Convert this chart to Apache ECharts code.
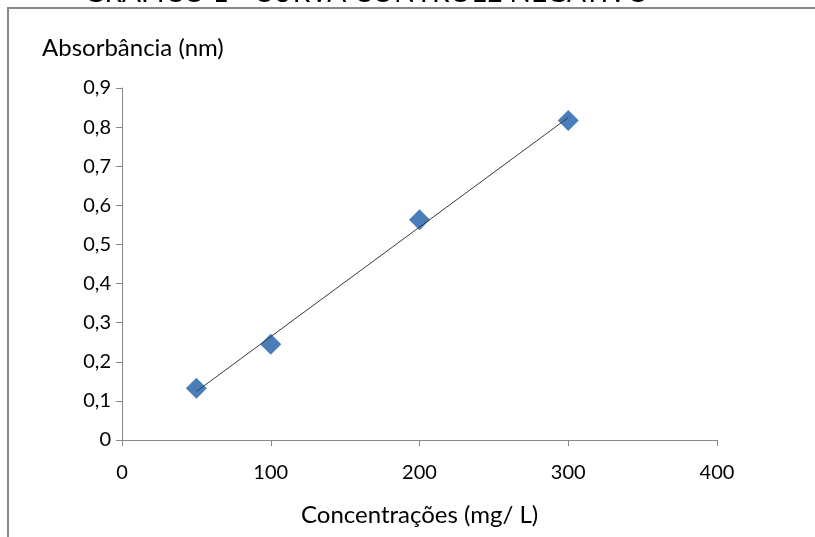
<!DOCTYPE html>
<html>
<head>
<meta charset="utf-8">
<script src="https://cdn.jsdelivr.net/npm/echarts@6/dist/echarts.min.js"></script>
<style>
html,body{margin:0;padding:0;background:#fff;}
#c{width:815px;height:537px;}
</style>
</head>
<body>
<div id="c"></div>
<script>
// Data
const concentrations = [50, 100, 200, 300];
const absorbance = [0.132, 0.245, 0.563, 0.817];
const xTicks = [0, 100, 200, 300, 400];
const yTicks = [0, 0.1, 0.2, 0.3, 0.4, 0.5, 0.6, 0.7, 0.8, 0.9];
const chartTitle = 'GRÁFICO 1 - CURVA CONTROLE NEGATIVO';
const yTitle = 'Absorbância (nm)';
const xTitle = 'Concentrações (mg/ L)';

// Linear trendline (least squares) from the data
const n = concentrations.length;
const mx = concentrations.reduce((a, b) => a + b, 0) / n;
const my = absorbance.reduce((a, b) => a + b, 0) / n;
let sxy = 0, sxx = 0;
for (let i = 0; i < n; i++) {
  sxy += (concentrations[i] - mx) * (absorbance[i] - my);
  sxx += (concentrations[i] - mx) * (concentrations[i] - mx);
}
const slope = sxy / sxx;
const intercept = my - slope * mx;
const xMinData = Math.min(...concentrations);
const xMaxData = Math.max(...concentrations);
const trend = [[xMinData, intercept + slope * xMinData], [xMaxData, intercept + slope * xMaxData]];

const chart = echarts.init(document.getElementById('c'));
const fontFam = 'Lato, "Open Sans", sans-serif';
chart.setOption({
  animation: false,
  backgroundColor: '#fff',
  grid: { left: 122, right: 98, top: 88, bottom: 97 },
  xAxis: {
    type: 'value', min: xTicks[0], max: xTicks[xTicks.length - 1], interval: 100,
    axisLine: { show: true, lineStyle: { color: '#868686', width: 1 } },
    axisTick: { show: true, inside: false, length: 6, lineStyle: { color: '#868686' } },
    axisLabel: { color: '#000', fontSize: 20, fontFamily: fontFam, margin: 23 },
    splitLine: { show: false }
  },
  yAxis: {
    type: 'value', min: yTicks[0], max: yTicks[yTicks.length - 1], interval: 0.1,
    axisLine: { show: true, lineStyle: { color: '#868686', width: 1 } },
    axisTick: { show: true, inside: false, length: 6, lineStyle: { color: '#868686' } },
    axisLabel: { color: '#000', fontSize: 20, fontFamily: fontFam, margin: 11,
      formatter: v => (Math.round(v * 10) / 10).toString().replace('.', ',') },
    splitLine: { show: false }
  },
  series: [
    {
      type: 'scatter', data: concentrations.map((x, i) => [x, absorbance[i]]),
      symbol: 'diamond', symbolSize: 21,
      itemStyle: { color: '#4A7EBB', opacity: 1 }, z: 2
    },
    {
      type: 'line', data: trend, showSymbol: false, symbol: 'none',
      lineStyle: { color: '#3a3a3a', width: 1 }, z: 3, silent: true
    }
  ],
  graphic: [
    { type: 'rect', shape: { x: 8, y: 8, width: 820, height: 540 },
      style: { fill: 'none', stroke: '#888', lineWidth: 2 }, z: 0 },
    { type: 'text', x: 84, y: -21,
      style: { text: chartTitle, fill: '#000', font: '28px ' + fontFam } },
    { type: 'text', left: 42, top: 36,
      style: { text: yTitle, fill: '#000', font: '24px ' + fontFam } },
    { type: 'text', left: 301, top: 503,
      style: { text: xTitle, fill: '#000', font: '24px ' + fontFam } }
  ]
});
</script>
</body>
</html>
